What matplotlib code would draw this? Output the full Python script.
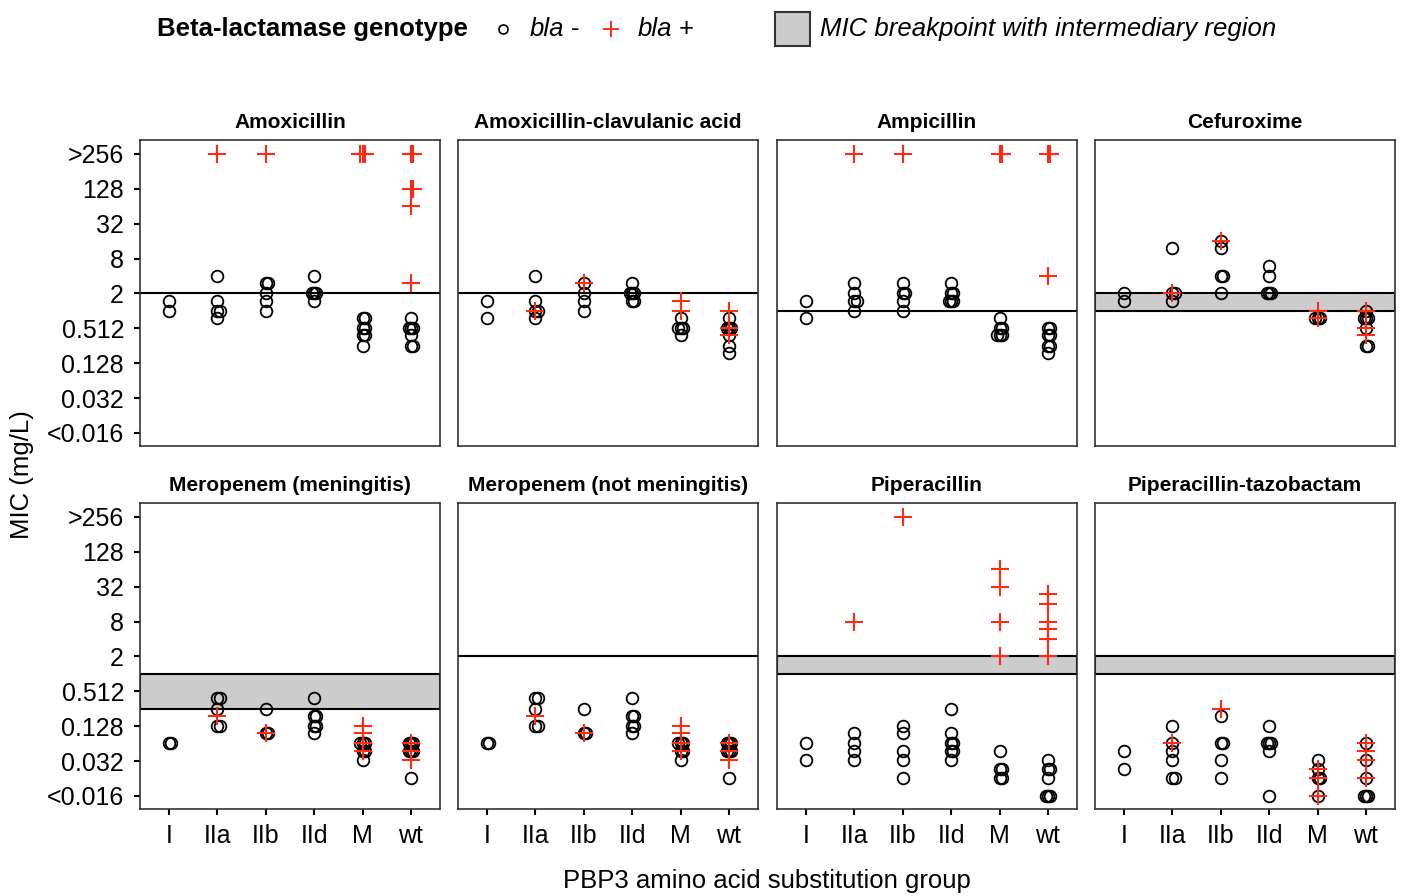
import matplotlib
matplotlib.use("Agg")
import matplotlib.pyplot as plt
from matplotlib.lines import Line2D
from matplotlib.patches import Rectangle
import numpy as np

plt.rcParams['font.family'] = ['Liberation Sans', 'DejaVu Sans']

# ---------------- data ----------------
GROUPS = ["I", "IIa", "IIb", "IId", "M", "wt"]
PANELS = ["Amoxicillin", "Amoxicillin-clavulanic acid", "Ampicillin", "Cefuroxime",
          "Meropenem (meningitis)", "Meropenem (not meningitis)", "Piperacillin",
          "Piperacillin-tazobactam"]

Y_TICK_VALUES = [512, 128, 32, 8, 2, 0.5, 0.125, 0.03125, 0.0078125]
Y_TICK_LABELS = [">256", "128", "32", "8", "2", "0.512", "0.128", "0.032", "<0.016"]

# MIC values (mg/L) per group, in GROUPS order; 512 = ">256", 0.0078 = "<0.016"
amox_neg = [[1.5, 1], [4, 1.5, 1, 1, 0.75], [3, 3, 2, 1.5, 1], [4, 2, 2, 2, 1.5],
            [0.75, 0.75, 0.5, 0.5, 0.38, 0.38, 0.25], [0.75, 0.5, 0.5, 0.5, 0.38, 0.25, 0.25]]
amox_pos = [[], [512], [512], [], [512, 512, 512], [512, 512, 128, 128, 64, 3]]

amcl_neg = [[1.5, 0.75], [4, 1.5, 1, 1, 0.75], [3, 2, 1.5, 1], [3, 2, 2, 2, 1.5, 1.5],
            [0.75, 0.5, 0.5, 0.5, 0.38], [0.75, 0.5, 0.5, 0.5, 0.38, 0.25, 0.19]]
amcl_pos = [[], [1], [3], [], [1.5, 1], [1, 0.5, 0.38]]

ampi_neg = [[1.5, 0.75], [3, 2, 1.5, 1.5, 1], [3, 2, 2, 1.5, 1], [3, 2, 2, 1.5, 1.5, 1.5],
            [0.75, 0.5, 0.5, 0.38, 0.38, 0.38], [0.5, 0.5, 0.38, 0.38, 0.25, 0.25, 0.19]]
ampi_pos = [[], [512], [512], [], [512, 512], [512, 512, 4]]

cefu_neg = [[2, 1.5], [12, 2, 2, 1.5], [16, 12, 4, 4, 2], [6, 4, 2, 2, 2],
            [0.75, 0.75, 0.75], [1, 0.75, 0.75, 0.75, 0.5, 0.25, 0.25]]
cefu_pos = [[], [2], [16], [], [1, 0.75], [1, 0.5, 0.38]]

mero_neg = [[0.064, 0.064], [0.38, 0.38, 0.25, 0.125, 0.125], [0.25, 0.094, 0.094],
            [0.38, 0.19, 0.19, 0.125, 0.125, 0.094],
            [0.064, 0.064, 0.064, 0.047, 0.047, 0.032],
            [0.064, 0.064, 0.064, 0.047, 0.047, 0.047, 0.016]]
mero_pos = [[], [0.19], [0.094], [], [0.125, 0.094, 0.064, 0.047], [0.064, 0.047, 0.032]]

pipe_neg = [[0.064, 0.032], [0.094, 0.064, 0.047, 0.032], [0.125, 0.094, 0.047, 0.032, 0.016],
            [0.25, 0.094, 0.064, 0.064, 0.047, 0.047, 0.032],
            [0.047, 0.023, 0.023, 0.016, 0.016],
            [0.032, 0.023, 0.023, 0.016, 0.0078, 0.0078, 0.0078]]
pipe_pos = [[], [8], [512], [], [64, 32, 8, 2], [24, 16, 8, 6, 4, 2]]

pita_neg = [[0.047, 0.023], [0.125, 0.064, 0.047, 0.032, 0.016, 0.016],
            [0.19, 0.064, 0.064, 0.032, 0.016], [0.125, 0.064, 0.064, 0.064, 0.047, 0.0078],
            [0.032, 0.023, 0.016, 0.016, 0.0078], [0.064, 0.032, 0.016, 0.0078, 0.0078, 0.0078]]
pita_pos = [[], [0.064], [0.25], [], [0.023, 0.016, 0.0078], [0.064, 0.047, 0.032, 0.016]]

NEG = [amox_neg, amcl_neg, ampi_neg, cefu_neg, mero_neg, mero_neg, pipe_neg, pita_neg]
POS = [amox_pos, amcl_pos, ampi_pos, cefu_pos, mero_pos, mero_pos, pipe_pos, pita_pos]

# breakpoints (S upper, R lower): equal -> single line, otherwise intermediate band
BP_LOW = [2, 2, 1, 1, 0.25, 2, 1, 1]
BP_HIGH = [2, 2, 1, 2, 1, 2, 2, 2]

# ---------------- figure ----------------
W, H = 1402, 896
fig = plt.figure(figsize=(W / 100, H / 100), dpi=100)

col_left = [140, 458, 777, 1095]
col_w = 300
row_top = [140, 503]
row_h = 306

RED = "#FF2A14"
OFFS = [0.0, 0.045, -0.045, 0.02, -0.02, 0.07, -0.07]


def jitter_x(gi, vals):
    xs = []
    seen = {}
    for v in vals:
        k = seen.get(v, 0)
        seen[v] = k + 1
        xs.append(gi + OFFS[k % len(OFFS)])
    return xs


for p, name in enumerate(PANELS):
    r, c = divmod(p, 4)
    ax = fig.add_axes([col_left[c] / W, 1 - (row_top[r] + row_h) / H, col_w / W, row_h / H])
    ax.set_yscale('log', base=2)
    ax.set_ylim(2 ** -7.75, 2 ** 9.8)
    ax.set_xlim(-0.6, 5.6)

    lo, hi = BP_LOW[p], BP_HIGH[p]
    if lo == hi:
        ax.axhline(lo, color='black', lw=1.5, zorder=2)
    else:
        ax.axhspan(lo, hi, facecolor='#CCCCCC', edgecolor='black', lw=1.5, zorder=1)

    for gi, g in enumerate(GROUPS):
        vn = NEG[p][gi]
        if vn:
            ax.plot(jitter_x(gi, vn), vn, linestyle='none', marker='o', ms=8.4,
                    mfc='none', mec='black', mew=1.3, zorder=3)
        vp = POS[p][gi]
        if vp:
            ax.plot(jitter_x(gi, vp), vp, linestyle='none', marker='+', ms=12.5,
                    color=RED, mew=1.5, zorder=4)

    for s in ax.spines.values():
        s.set_color('#333333')
        s.set_linewidth(1.2)

    ax.set_yticks(Y_TICK_VALUES)
    ax.yaxis.set_minor_locator(matplotlib.ticker.NullLocator())
    if c == 0:
        ax.set_yticklabels(Y_TICK_LABELS)
        ax.tick_params(axis='y', length=4.5, width=1.5, labelsize=18, pad=7)
    else:
        ax.tick_params(axis='y', length=0, labelleft=False)

    ax.set_xticks(range(len(GROUPS)))
    if r == 1:
        ax.set_xticklabels(GROUPS)
        ax.tick_params(axis='x', length=4.5, width=1.5, labelsize=18, pad=6.5)
    else:
        ax.tick_params(axis='x', length=0, labelbottom=False)

    ax.annotate(name, xy=(0.5, 1), xycoords='axes fraction', xytext=(0, 12.6),
                textcoords='offset points', ha='center', va='center',
                fontsize=15, fontweight='bold')

fig.text(767 / W, 1 - 881 / H, "PBP3 amino acid substitution group", ha='center',
         va='center', fontsize=18.5)
fig.text(22 / W, 1 - 475 / H, "MIC (mg/L)", ha='center', va='center', rotation=90,
         fontsize=18.5)

# ---------------- legend ----------------
ly = 1 - 29 / H
fig.text(157 / W, ly, "Beta-lactamase genotype", ha='left', va='center',
         fontsize=18.5, fontweight='bold')
fig.add_artist(Line2D([503 / W], [ly], transform=fig.transFigure, marker='o', ms=6.5,
                      mfc='none', mec='black', mew=1.2, linestyle='none'))
fig.text(530 / W, ly, "bla", ha='left', va='center', fontsize=18.5, style='italic')
fig.text(575 / W, ly, "-", ha='center', va='center', fontsize=18.5)
fig.add_artist(Line2D([611 / W], [ly], transform=fig.transFigure, marker='+', ms=11,
                      color=RED, mew=1.4, linestyle='none'))
fig.text(638 / W, ly, "bla", ha='left', va='center', fontsize=18.5, style='italic')
fig.text(686 / W, ly, "+", ha='center', va='center', fontsize=18.5)
fig.add_artist(Rectangle((775 / W, 1 - 46 / H), 35 / W, 34 / H, transform=fig.transFigure,
                         facecolor='#CCCCCC', edgecolor='#333333', lw=1.5))
fig.text(820 / W, ly, "MIC breakpoint with intermediary region", ha='left', va='center',
         fontsize=18.5, style='italic')

fig.savefig("out.png", dpi=100)
